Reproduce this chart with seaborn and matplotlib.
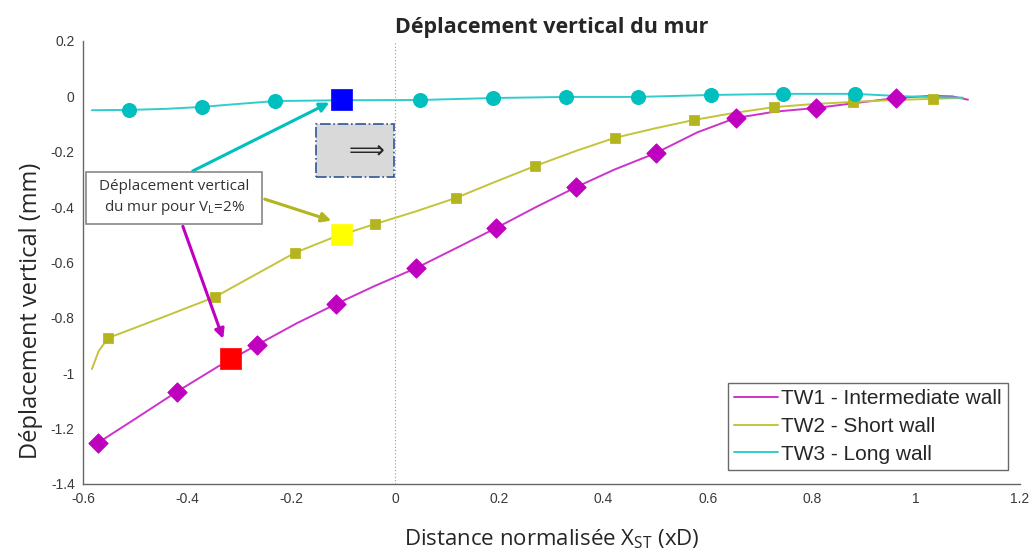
import numpy as np
import pandas as pd
import matplotlib
matplotlib.use("Agg")
import matplotlib.pyplot as plt
import seaborn as sns
from matplotlib.patches import Rectangle

# TW1 - Intermediate wall (curve + diamond markers)
tw1_x = [-0.571, -0.50, -0.42, -0.34, -0.266, -0.19, -0.114, -0.04, 0.04, 0.12, 0.193, 0.27,
         0.347, 0.42, 0.50, 0.58, 0.654, 0.73, 0.808, 0.88, 0.961, 1.03, 1.07, 1.10]
tw1_y = [-1.251, -1.165, -1.067, -0.975, -0.898, -0.82, -0.75, -0.685, -0.62, -0.545, -0.476, -0.40,
         -0.328, -0.265, -0.205, -0.13, -0.078, -0.055, -0.042, -0.025, -0.006, 0.002, 0.0, -0.012]
tw1_mx = [-0.571, -0.420, -0.266, -0.114, 0.040, 0.193, 0.347, 0.500, 0.654, 0.808, 0.961]
tw1_my = [-1.251, -1.067, -0.898, -0.750, -0.620, -0.476, -0.328, -0.205, -0.078, -0.042, -0.006]

# TW2 - Short wall
tw2_x = [-0.583, -0.57, -0.552, -0.45, -0.346, -0.27, -0.193, -0.12, -0.039, 0.04, 0.116, 0.19,
         0.269, 0.35, 0.421, 0.50, 0.574, 0.65, 0.727, 0.80, 0.879, 0.96, 1.033, 1.09]
tw2_y = [-0.985, -0.92, -0.873, -0.80, -0.724, -0.645, -0.565, -0.51, -0.461, -0.415, -0.367, -0.31,
         -0.251, -0.195, -0.150, -0.115, -0.085, -0.06, -0.039, -0.028, -0.020, -0.013, -0.009, -0.005]
tw2_mx = [-0.552, -0.346, -0.193, -0.039, 0.116, 0.269, 0.421, 0.574, 0.727, 0.879, 1.033]
tw2_my = [-0.873, -0.724, -0.565, -0.461, -0.367, -0.251, -0.150, -0.085, -0.039, -0.020, -0.009]

# TW3 - Long wall
tw3_x = [-0.583, -0.512, -0.44, -0.371, -0.30, -0.231, -0.104, 0.048, 0.188, 0.328, 0.466,
         0.606, 0.745, 0.883, 0.98, 1.09]
tw3_y = [-0.050, -0.049, -0.045, -0.038, -0.027, -0.017, -0.014, -0.013, -0.006, -0.002, -0.002,
         0.005, 0.009, 0.009, 0.0, -0.005]
tw3_mx = [-0.512, -0.371, -0.231, 0.048, 0.188, 0.328, 0.466, 0.606, 0.745, 0.883]
tw3_my = [-0.049, -0.038, -0.017, -0.013, -0.006, -0.002, -0.002, 0.005, 0.009, 0.009]

# points for V_L = 2%
vl_x = [-0.316, -0.104, -0.104]
vl_y = [-0.948, -0.498, -0.010]
vl_colors = ["#FF0000", "#FFFF00", "#0000FF"]

labels = ["TW1 - Intermediate wall", "TW2 - Short wall", "TW3 - Long wall"]
line_colors = ["#CC33CC", "#C4C43A", "#33CCCC"]
mark_colors = ["#BF00BF", "#B4B41E", "#00BFBF"]
markers = ["D", "s", "o"]
msizes = [95, 45, 100]

sns.set_style("white")
plt.rcParams["font.family"] = ["Liberation Sans", "DejaVu Sans"]
calibri = ["Open Sans", "DejaVu Sans"]

fig = plt.figure(figsize=(10.34, 5.51), dpi=100)
ax = fig.add_axes([0.0803, 0.1216, 0.9062, 0.804])

curves = [(tw1_x, tw1_y), (tw2_x, tw2_y), (tw3_x, tw3_y)]
marks = [(tw1_mx, tw1_my), (tw2_mx, tw2_my), (tw3_mx, tw3_my)]

ax.axvline(0, color="#999999", lw=0.8, ls=(0, (1, 2)), zorder=1)

for (cx, cy), (mx, my), lab, lc, mc, mk, ms in zip(curves, marks, labels, line_colors,
                                                   mark_colors, markers, msizes):
    sns.lineplot(x=cx, y=cy, color=lc, lw=1.4, label=lab, sort=False, ax=ax, zorder=2)
    sns.scatterplot(x=mx, y=my, color=mc, marker=mk, s=ms, edgecolor=mc, ax=ax,
                    zorder=3, legend=False)

sns.scatterplot(x=vl_x, y=vl_y, hue=[str(i) for i in range(3)], palette=vl_colors,
                marker="s", s=230, edgecolor=vl_colors, linewidth=0.5, ax=ax, zorder=5, legend=False)

# grey box with arrow
ax.add_patch(Rectangle((-0.152, -0.292), 0.149, 0.192, facecolor="#D9D9D9",
                       edgecolor="#2F5597", ls="-.", lw=1.2, zorder=4))
ax.text(-0.055, -0.195, "\u27f9", fontsize=18, family="DejaVu Sans", ha="center",
        va="center", zorder=5)

# annotation arrows
arrow_specs = [((-0.394, -0.274), (-0.122, -0.018), "#00BFBF"),
               ((-0.256, -0.368), (-0.118, -0.452), "#B4B41E"),
               ((-0.41, -0.46), (-0.329, -0.885), "#BF00BF")]
for start, end, col in arrow_specs:
    ax.annotate("", xy=end, xytext=start,
                arrowprops=dict(arrowstyle="-|>", color=col, lw=2.2, mutation_scale=14),
                zorder=4)

# annotation box
ax.add_patch(Rectangle((-0.594, -0.461), 0.338, 0.188, facecolor="white",
                       edgecolor="#888888", lw=1.2, zorder=6))
ax.text(-0.425, -0.367, "Déplacement vertical\ndu mur pour V$_{\\mathregular{L}}$=2%",
        ha="center", va="center", fontsize=11, family=calibri,
        color="#333333", linespacing=1.25, zorder=7)

ax.set_xlim(-0.6, 1.2)
ax.set_ylim(-1.4, 0.2)
ax.set_xticks(np.arange(-0.6, 1.21, 0.2))
ax.set_yticks(np.arange(-1.4, 0.21, 0.2))
ax.set_xticklabels(["-0.6", "-0.4", "-0.2", "0", "0.2", "0.4", "0.6", "0.8", "1", "1.2"])
ax.set_yticklabels(["-1.4", "-1.2", "-1", "-0.8", "-0.6", "-0.4", "-0.2", "0", "0.2"])
ax.tick_params(direction="in", length=6, width=0.9, colors="#666666", labelsize=10,
               labelcolor="#3A3A3A", pad=6)
sns.despine(ax=ax)
for s in ["left", "bottom"]:
    ax.spines[s].set_color("#666666")
    ax.spines[s].set_linewidth(1.0)

ax.set_title("Déplacement vertical du mur", fontsize=15.5, fontweight="bold",
             family=calibri, pad=6)
ax.set_ylabel("Déplacement vertical (mm)", fontsize=17, family=calibri)
ax.yaxis.set_label_coords(-0.043, 0.39)
ax.set_xlabel("Distance normalisée X$_{\\mathregular{ST}}$ (xD)", fontsize=16, family=calibri)
ax.xaxis.set_label_coords(0.5, -0.097)

leg = ax.legend(loc="lower right", bbox_to_anchor=(0.987, 0.032), fontsize=15,
                frameon=True, fancybox=False, edgecolor="#444444", handlelength=2.1,
                handletextpad=0.15, borderpad=0.3, labelspacing=0.42, borderaxespad=0)
leg.get_frame().set_linewidth(1.0)

fig.savefig("out.png", dpi=100)
